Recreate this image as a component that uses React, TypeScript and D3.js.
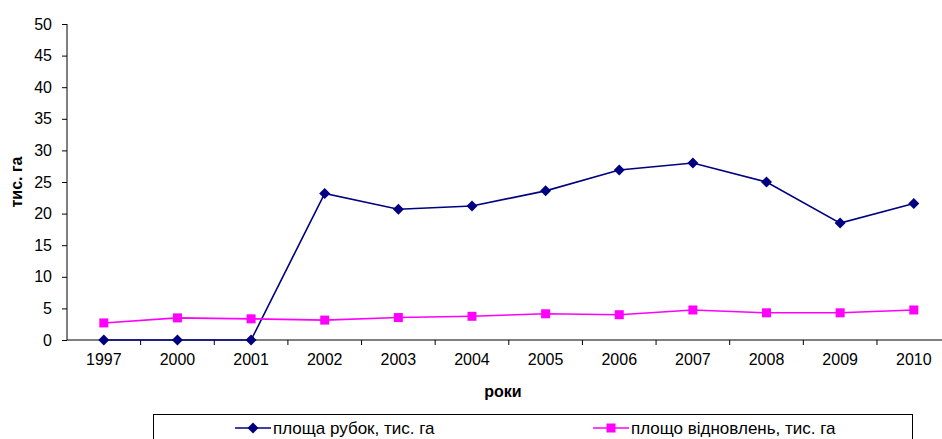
import React, { useRef, useEffect } from "react";
import * as d3 from "d3";

const years = ["1997", "2000", "2001", "2002", "2003", "2004", "2005", "2006", "2007", "2008", "2009", "2010"];
const cutting = [0, 0, 0, 23.2, 20.7, 21.2, 23.6, 26.9, 28.0, 25.0, 18.5, 21.6];
const renewal = [2.7, 3.5, 3.35, 3.15, 3.55, 3.75, 4.15, 4.0, 4.75, 4.3, 4.3, 4.75];
const yTicks = [0, 5, 10, 15, 20, 25, 30, 35, 40, 45, 50];
const seriesNames = ["площа рубок, тис. га", "площо відновлень, тис. га"];

const W = 942;
const H = 439;
const font = "'Liberation Sans', Arial, sans-serif";

// square rotated 45deg, like the Excel marker
const diamondPath = "M0,-5.5L5.5,0L0,5.5L-5.5,0Z";

const App: React.FC = () => {
    const svgRef = useRef<SVGSVGElement>(null);

    useEffect(() => {
        const svgEl = svgRef.current;
        if (!svgEl) return;
        const svg = d3.select(svgEl);
        svg.selectAll("*").remove();

        const x = d3.scaleBand<string>().domain(years).range([67, 950.6]);
        const y = d3.scaleLinear().domain([0, 50]).range([340, 24]);
        const cx = (d: string) => (x(d) as number) + x.bandwidth() / 2;

        // y axis
        const yAxis = svg
            .append("g")
            .attr("transform", "translate(67,0)")
            .call(d3.axisLeft(y).tickValues(yTicks).tickSize(5).tickPadding(10));
        yAxis.select(".domain").attr("stroke", "#000").attr("d", `M0,${y(50)}V${y(0)}`);
        yAxis.selectAll("line").attr("stroke", "#000");
        yAxis.selectAll("text").attr("font-family", font).attr("font-size", 16).attr("fill", "#000");

        // x axis (ticks at category boundaries)
        const xg = svg.append("g");
        xg.append("line").attr("x1", 67).attr("x2", W).attr("y1", y(0)).attr("y2", y(0)).attr("stroke", "#000");
        years.forEach((d, i) => {
            if (i === 0) return;
            const bx = x(d) as number;
            xg.append("line").attr("x1", bx).attr("x2", bx).attr("y1", y(0)).attr("y2", y(0) + 5).attr("stroke", "#000");
        });
        xg.selectAll("text.xl")
            .data(years)
            .join("text")
            .attr("x", (d) => cx(d))
            .attr("y", y(0) + 25)
            .attr("text-anchor", "middle")
            .attr("font-family", font)
            .attr("font-size", 16)
            .text((d) => d);

        // titles
        svg.append("text")
            .attr("transform", `translate(22,182) rotate(-90)`)
            .attr("text-anchor", "middle")
            .attr("font-family", font)
            .attr("font-size", 16)
            .attr("font-weight", "bold")
            .text("тис. га");
        svg.append("text")
            .attr("x", 503)
            .attr("y", 397)
            .attr("text-anchor", "middle")
            .attr("font-family", font)
            .attr("font-size", 16)
            .attr("font-weight", "bold")
            .text("роки");

        const line = d3
            .line<number>()
            .x((_, i) => cx(years[i]))
            .y((v) => y(v));

        // cutting series
        svg.append("path").attr("d", line(cutting)).attr("fill", "none").attr("stroke", "#000080").attr("stroke-width", 1.6);
        svg.selectAll("path.dm")
            .data(cutting)
            .join("path")
            .attr("class", "dm")
            .attr("d", diamondPath)
            .attr("transform", (v, i) => `translate(${cx(years[i])},${y(v)})`)
            .attr("fill", "#000080");

        // renewal series
        svg.append("path").attr("d", line(renewal)).attr("fill", "none").attr("stroke", "#FF00FF").attr("stroke-width", 1.6);
        svg.selectAll("rect.sq")
            .data(renewal)
            .join("rect")
            .attr("class", "sq")
            .attr("x", (_, i) => cx(years[i]) - 4.5)
            .attr("y", (v) => y(v) - 4.5)
            .attr("width", 9)
            .attr("height", 9)
            .attr("fill", "#FF00FF");

        // legend
        const lg = svg.append("g");
        lg.append("rect").attr("x", 153.5).attr("y", 414.5).attr("width", 759).attr("height", 40).attr("fill", "#fff").attr("stroke", "#000");
        const items = [
            { x1: 235, color: "#000080", kind: "diamond" },
            { x1: 593, color: "#FF00FF", kind: "square" },
        ];
        items.forEach((it, i) => {
            const ly = 428;
            lg.append("line").attr("x1", it.x1).attr("x2", it.x1 + 36).attr("y1", ly).attr("y2", ly).attr("stroke", it.color).attr("stroke-width", 1.6);
            if (it.kind === "diamond") {
                lg.append("path").attr("d", diamondPath).attr("transform", `translate(${it.x1 + 18},${ly})`).attr("fill", it.color);
            } else {
                lg.append("rect").attr("x", it.x1 + 18 - 4.5).attr("y", ly - 4.5).attr("width", 9).attr("height", 9).attr("fill", it.color);
            }
            lg.append("text")
                .attr("x", it.x1 + 38)
                .attr("y", ly + 6)
                .attr("font-family", font)
                .attr("font-size", 17)
                .text(seriesNames[i]);
        });
    }, []);

    return <svg ref={svgRef} width={W} height={H} style={{ display: "block", position: "absolute", left: 0, top: 0, background: "#fff" }}></svg>;
};

export default App;
